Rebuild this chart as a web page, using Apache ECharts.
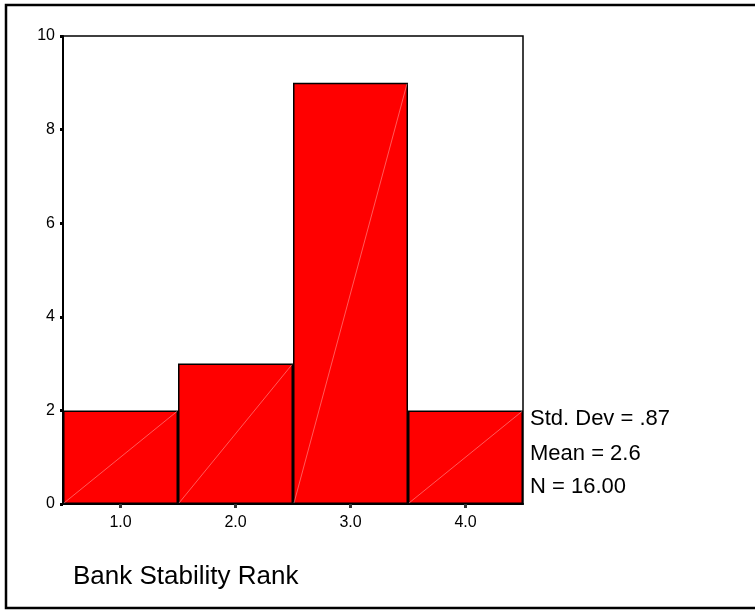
<!DOCTYPE html>
<html>
<head>
<meta charset="utf-8">
<script src="https://cdn.jsdelivr.net/npm/echarts@6/dist/echarts.min.js"></script>
<style>
html,body{margin:0;padding:0;background:#fff;}
#chart{width:755px;height:610px;}
</style>
</head>
<body>
<div id="chart"></div>
<script>
const categories = ['1.0', '2.0', '3.0', '4.0'];
const counts = [2, 3, 9, 2];
const yTicks = [0, 2, 4, 6, 8, 10];
const statLines = ['Std. Dev = .87', 'Mean = 2.6', 'N = 16.00'];
const axisTitle = 'Bank Stability Rank';

const FONT = 'Arial, "Liberation Sans", sans-serif';
const chart = echarts.init(document.getElementById('chart'), null, {renderer: 'canvas'});

const option = {
  backgroundColor: '#fff',
  animation: false,
  grid: {
    left: 63, top: 36, right: 232, bottom: 106,
    show: true, borderColor: '#000', borderWidth: 1.5, backgroundColor: '#fff'
  },
  xAxis: {
    type: 'category',
    data: categories,
    boundaryGap: true,
    axisLine: {show: true, lineStyle: {color: '#000', width: 2}},
    axisTick: {show: true, alignWithLabel: true, length: 4, lineStyle: {color: '#333', width: 3}},
    axisLabel: {color: '#000', fontSize: 16, fontFamily: FONT, margin: 11},
    splitLine: {show: false}
  },
  yAxis: {
    type: 'value',
    min: yTicks[0], max: yTicks[yTicks.length - 1], interval: yTicks[1] - yTicks[0],
    axisLine: {show: true, lineStyle: {color: '#000', width: 2}},
    axisTick: {show: true, length: 3, lineStyle: {color: '#000', width: 3}},
    axisLabel: {color: '#000', fontSize: 16, fontFamily: FONT, margin: 8},
    splitLine: {show: false}
  },
  series: [
    {
      type: 'bar',
      data: counts,
      barWidth: '100%',
      barCategoryGap: 0,
      itemStyle: {color: '#ff0000', borderColor: '#000', borderWidth: 1.5},
      z: 2
    },
    {
      type: 'custom',
      data: counts.map((v, i) => [i, v]),
      z: 3,
      silent: true,
      renderItem: function (params, api) {
        const i = api.value(0);
        const v = api.value(1);
        const p0 = api.coord([i, 0]);
        const p1 = api.coord([i, v]);
        const w = api.size([1, 0])[0];
        return {
          type: 'line',
          shape: {x1: p0[0] - w / 2 + 1, y1: p0[1] - 1, x2: p1[0] + w / 2 - 1, y2: p1[1] + 1},
          style: {stroke: 'rgba(255,190,190,0.8)', lineWidth: 0.6}
        };
      }
    }
  ],
  graphic: [
    {type: 'rect', shape: {x: 6, y: 5, width: 760, height: 603}, style: {fill: 'none', stroke: '#000', lineWidth: 2.5}, z: 10},
    {type: 'text', left: 530, top: 408, style: {text: statLines[0], fill: '#000', fontSize: 22, fontFamily: FONT}},
    {type: 'text', left: 530, top: 443, style: {text: statLines[1], fill: '#000', fontSize: 22, fontFamily: FONT}},
    {type: 'text', left: 530, top: 476, style: {text: statLines[2], fill: '#000', fontSize: 22, fontFamily: FONT}},
    {type: 'text', left: 73, top: 564, style: {text: axisTitle, fill: '#000', fontSize: 26, fontFamily: FONT}}
  ]
};
chart.setOption(option);
</script>
</body>
</html>
